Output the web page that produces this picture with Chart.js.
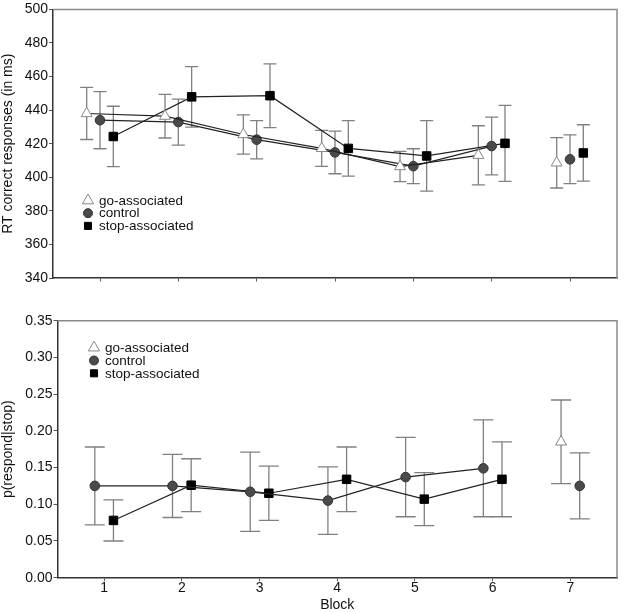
<!DOCTYPE html>
<html>
<head>
<meta charset="utf-8">
<script src="https://cdn.jsdelivr.net/npm/chart.js@4.4.1/dist/chart.umd.min.js"></script>
<style>
  body { margin: 0; background: #fff; }
  #wrap { position: relative; width: 625px; height: 612px; }
  canvas { position: absolute; left: 0; }
</style>
</head>
<body>
<div id="wrap">
  <canvas id="rt" width="625" height="300" style="top:0"></canvas>
  <canvas id="pr" width="625" height="312" style="top:300px"></canvas>
</div>
<script>
// data
var blocks = [1, 2, 3, 4, 5, 6, 7];
var seriesNames = ['go-associated', 'control', 'stop-associated'];

// RT correct responses (ms), mean and half error bar
var rtGo = [438, 436.4, 425.5, 417.2, 406.4, 413.1, 408.6];
var rtGoErr = [15.5, 13, 11.7, 10.7, 9, 17.6, 15];
var rtControl = [434, 432.9, 422.4, 414.8, 406.6, 418.6, 410.7];
var rtControlErr = [17, 13.7, 11.4, 12.7, 10.4, 17.2, 14.5];
var rtStop = [424.3, 447.9, 448.6, 417.2, 412.7, 420.2, 414.5];
var rtStopErr = [18, 18, 19, 16.5, 21, 22.6, 16.8];

// p(respond|stop)
var pGo = [null, null, null, null, null, null, 0.185];
var pGoErr = [null, null, null, null, null, null, 0.057];
var pControl = [0.125, 0.125, 0.117, 0.105, 0.137, 0.149, 0.125];
var pControlErr = [0.053, 0.043, 0.054, 0.046, 0.054, 0.066, 0.045];
var pStop = [0.078, 0.126, 0.115, 0.134, 0.107, 0.134, null];
var pStopErr = [0.028, 0.036, 0.037, 0.044, 0.036, 0.051, null];

var rtTicks = [340, 360, 380, 400, 420, 440, 460, 480, 500];
var pTicks = [0, 0.05, 0.10, 0.15, 0.20, 0.25, 0.30, 0.35];

var FONT = "'Liberation Sans', Arial, sans-serif";
Chart.defaults.font.family = FONT;
Chart.defaults.color = '#111';

function pts(vals, errs, off) {
  var out = [], e = [];
  blocks.forEach(function(b, i) {
    if (vals[i] == null) return;
    out.push({x: b + off(b), y: vals[i]});
    e.push(errs[i]);
  });
  return {data: out, errors: e};
}

var styles = [
  {pointStyle: 'triangle', pointRadius: 6.3, pointBackgroundColor: '#fff', pointBorderColor: '#888', pointBorderWidth: 1},
  {pointStyle: 'circle', pointRadius: 4.8, pointBackgroundColor: '#4a4a4a', pointBorderColor: '#333', pointBorderWidth: 1},
  {pointStyle: 'rect', pointRadius: 6, pointBackgroundColor: '#000', pointBorderColor: '#000', pointBorderWidth: 1}
];

function makeSet(i, p) {
  return Object.assign({
    label: seriesNames[i],
    data: p.data,
    errors: p.errors,
    borderColor: '#222',
    borderWidth: 1.2,
    pointHoverRadius: 7,
    segment: {
      borderColor: function(ctx) { return ctx.p1.parsed.x > 6.5 ? 'transparent' : '#222'; }
    }
  }, styles[i]);
}

var errorBars = {
  id: 'errorBars',
  beforeDatasetsDraw: function(chart, args, opts) {
    var ctx = chart.ctx, xs = chart.scales.x, ys = chart.scales.y;
    ctx.save();
    ctx.strokeStyle = opts.color;
    ctx.lineWidth = opts.width;
    chart.data.datasets.forEach(function(ds) {
      ds.data.forEach(function(p, i) {
        var e = ds.errors[i];
        if (e == null) return;
        var x = xs.getPixelForValue(p.x);
        var y1 = ys.getPixelForValue(p.y + e), y2 = ys.getPixelForValue(p.y - e);
        ctx.beginPath();
        ctx.moveTo(x, y1); ctx.lineTo(x, y2);
        ctx.moveTo(x - opts.cap, y1); ctx.lineTo(x + opts.cap, y1);
        ctx.moveTo(x - opts.cap, y2); ctx.lineTo(x + opts.cap, y2);
        ctx.stroke();
      });
    });
    // top and right frame lines
    var a = chart.chartArea;
    ctx.strokeStyle = '#8a8a8a';
    ctx.lineWidth = 1.5;
    ctx.beginPath();
    ctx.moveTo(a.left, a.top); ctx.lineTo(a.right, a.top); ctx.lineTo(a.right, a.bottom);
    ctx.stroke();
    ctx.restore();
  }
};

var boxLegend = {
  id: 'boxLegend',
  afterDraw: function(chart, args, opts) {
    var ctx = chart.ctx;
    ctx.save();
    ctx.font = '13.5px ' + FONT;
    ctx.textBaseline = 'middle';
    seriesNames.forEach(function(name, i) {
      var y = opts.y + i * opts.gap;
      var st = styles[i];
      ctx.fillStyle = st.pointBackgroundColor;
      ctx.strokeStyle = st.pointBorderColor;
      ctx.lineWidth = 1;
      Chart.helpers.drawPoint(ctx, {pointStyle: st.pointStyle, radius: [6.5, 4.5, 5][i], rotation: 0, borderWidth: 1}, opts.x, y);
      ctx.fillStyle = '#111';
      ctx.fillText(name, opts.x + 11, y + 0.5);
    });
    ctx.restore();
  }
};

function onlyBlocks(scale) {
  scale.ticks = blocks.map(function(b) { return {value: b}; });
}

function baseOptions(yTicks, yTitle, yWidth, xHeight, pad, showX, cap, legendPos, fmt) {
  return {
    responsive: false,
    animation: false,
    layout: {padding: pad},
    plugins: {
      legend: {display: false},
      tooltip: {enabled: false},
      errorBars: {color: '#808080', width: 1.3, cap: cap},
      boxLegend: legendPos
    },
    scales: {
      x: {
        type: 'linear',
        min: 0.4, max: 7.6,
        afterBuildTicks: onlyBlocks,
        afterFit: function(s) { s.height = xHeight; },
        border: {display: true, color: '#333', width: 1.5},
        grid: {drawOnChartArea: false, drawTicks: true, tickLength: 3.5, color: '#555'},
        ticks: {display: showX, padding: -1, font: {size: 14}, color: '#111'},
        title: {display: showX, text: 'Block', font: {size: 14}, color: '#111', padding: {top: 0, bottom: -2}}
      },
      y: {
        min: yTicks[0], max: yTicks[yTicks.length - 1],
        afterBuildTicks: function(s) { s.ticks = yTicks.map(function(v) { return {value: v}; }); },
        afterFit: function(s) { s.width = yWidth; },
        border: {display: true, color: '#333', width: 1.5},
        grid: {drawOnChartArea: false, drawTicks: true, tickLength: 4, color: '#555'},
        ticks: {padding: 1, font: {size: 14}, color: '#111', callback: fmt},
        title: {display: true, text: yTitle, font: {size: 14}, color: '#111', padding: 0}
      }
    }
  };
}

new Chart(document.getElementById('rt'), {
  type: 'line',
  data: {
    datasets: [
      makeSet(0, pts(rtGo, rtGoErr, function() { return -0.17; })),
      makeSet(1, pts(rtControl, rtControlErr, function() { return 0; })),
      makeSet(2, pts(rtStop, rtStopErr, function() { return 0.17; }))
    ]
  },
  options: baseOptions(rtTicks, 'RT correct responses (in ms)', 53, 22,
    {top: 7, right: 2, left: 0, bottom: 0}, false, 6.5, {x: 88, y: 200.5, gap: 12.7},
    function(v) { return String(v); }),
  plugins: [errorBars, boxLegend]
});

new Chart(document.getElementById('pr'), {
  type: 'line',
  data: {
    datasets: [
      makeSet(0, pts(pGo, pGoErr, function() { return -0.12; })),
      makeSet(1, pts(pControl, pControlErr, function(b) { return b === 7 ? 0.12 : -0.12; })),
      makeSet(2, pts(pStop, pStopErr, function() { return 0.12; }))
    ]
  },
  options: baseOptions(pTicks, 'p(respond|stop)', 57.5, 34.3,
    {top: 20.7, right: 2, left: 0, bottom: 0}, true, 10, {x: 94, y: 47.7, gap: 12.8},
    function(v) { return Number(v).toFixed(2); }),
  plugins: [errorBars, boxLegend]
});
</script>
</body>
</html>
